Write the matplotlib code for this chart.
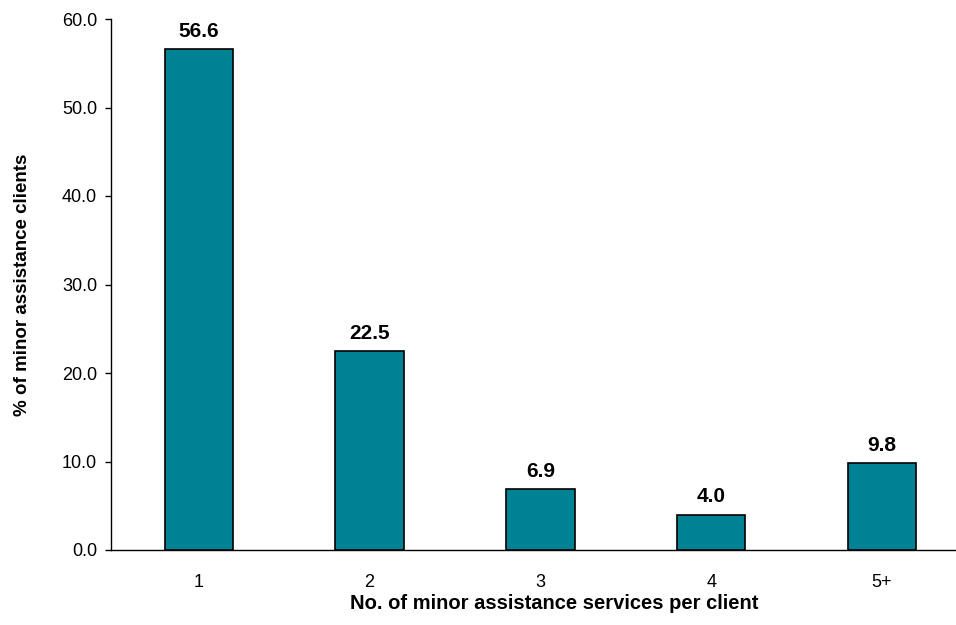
import matplotlib
matplotlib.use('Agg')
import matplotlib.pyplot as plt

categories = ['1', '2', '3', '4', '5+']
values = [56.6, 22.5, 6.9, 4.0, 9.8]
yticks = [0, 10, 20, 30, 40, 50, 60]

plt.rcParams['font.family'] = ['Liberation Sans', 'DejaVu Sans']

fig = plt.figure(figsize=(9.56, 6.25), dpi=100)
ax = fig.add_axes([0.116, 0.12, 0.884, 0.8496])

x = list(range(len(categories)))
bars = ax.bar(x, values, width=0.4, color='#008294', edgecolor='black', linewidth=1.2, zorder=3)

# value labels above each bar
for xi, v in zip(x, values):
    ax.annotate('%.1f' % v, (xi, v), xytext=(0, 6), textcoords='offset points',
                ha='center', va='bottom', fontsize=15, fontweight='bold')

ax.set_xlim(-0.515, 4.434)
ax.set_ylim(0, 60)
ax.set_yticks(yticks)
ax.set_yticklabels(['%.1f' % t for t in yticks], fontsize=13)
ax.set_xticks(x)
ax.set_xticklabels(categories, fontsize=13)
ax.tick_params(axis='x', length=0, pad=17)
ax.tick_params(axis='y', length=4, width=1, direction='out', pad=6)

ax.spines['top'].set_visible(False)
ax.spines['right'].set_visible(False)
ax.spines['left'].set_linewidth(1)
ax.spines['bottom'].set_linewidth(1)

ax.set_xlabel('No. of minor assistance services per client', fontsize=14.5, fontweight='bold')
ax.xaxis.set_label_coords(0.525, -0.083)
ax.set_ylabel('% of minor assistance clients', fontsize=13.5, fontweight='bold', labelpad=22)

fig.savefig('out.png', dpi=100)
